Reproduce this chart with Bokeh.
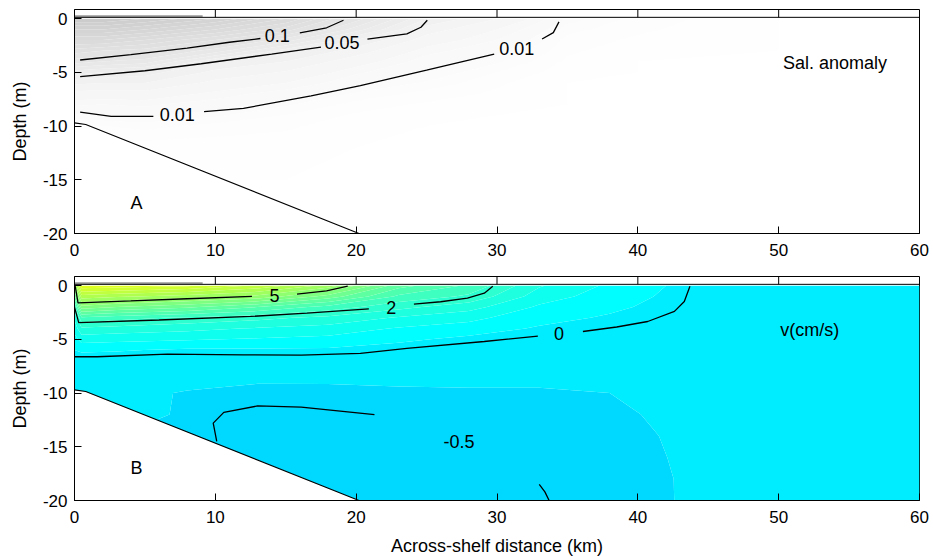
import numpy as np
from bokeh.plotting import figure
from bokeh.layouts import column
from bokeh.models import Span, Range1d
from bokeh.embed import file_html
from bokeh.resources import INLINE
from bokeh.core.properties import value

FONT = "Liberation Sans"

# ---------------- axes / ticks ----------------
x_ticks = [0, 10, 20, 30, 40, 50, 60]
y_ticks = [-20, -15, -10, -5, 0]
strip_ticks = [10, 20, 30, 40, 50]

# ---------------- bathymetry ----------------
bathy_x = [0.0, 0.8, 20.2]
bathy_d = [-9.7, -9.85, -20.0]

# ---------------- salinity anomaly field (panel A) ----------------
sal_x = [0, 2, 5, 10, 15, 20, 25, 30, 35, 40, 50, 60]
sal_depth = [0, -1, -2, -3, -4, -5, -6, -7, -8, -9, -10, -12, -15, -20]
sal_cols = [
    [0.20, 0.17, 0.14, 0.115, 0.095, 0.065, 0.042, 0.026, 0.016, 0.009, 0.005, 0.001, 0, 0],
    [0.20, 0.17, 0.14, 0.110, 0.090, 0.060, 0.040, 0.025, 0.015, 0.010, 0.005, 0.001, 0, 0],
    [0.19, 0.16, 0.13, 0.105, 0.085, 0.055, 0.040, 0.026, 0.016, 0.011, 0.006, 0.001, 0, 0],
    [0.17, 0.14, 0.11, 0.085, 0.050, 0.037, 0.027, 0.018, 0.012, 0.008, 0.004, 0.001, 0, 0],
    [0.14, 0.115, 0.085, 0.055, 0.040, 0.029, 0.020, 0.012, 0.008, 0.005, 0.003, 0.001, 0, 0],
    [0.095, 0.075, 0.050, 0.035, 0.024, 0.016, 0.011, 0.007, 0.004, 0.002, 0.001, 0, 0, 0],
    [0.050, 0.035, 0.025, 0.017, 0.012, 0.010, 0.007, 0.004, 0.002, 0.001, 0, 0, 0, 0],
    [0.030, 0.020, 0.015, 0.011, 0.008, 0.005, 0.003, 0.002, 0.001, 0, 0, 0, 0, 0],
    [0.009, 0.006, 0.004, 0.003, 0.002, 0.001, 0, 0, 0, 0, 0, 0, 0, 0],
    [0.004, 0.003, 0.002, 0.001, 0, 0, 0, 0, 0, 0, 0, 0, 0, 0],
    [0, 0, 0, 0, 0, 0, 0, 0, 0, 0, 0, 0, 0, 0],
    [0, 0, 0, 0, 0, 0, 0, 0, 0, 0, 0, 0, 0, 0],
]

# salinity contour lines (pieces split at labels)
s010_a_x = [0.4, 4.0, 8.0, 11.0, 13.2]
s010_a_d = [-3.85, -3.35, -2.75, -2.2, -1.85]
s010_b_x = [16.0, 17.9, 19.1]
s010_b_d = [-1.33, -0.85, -0.15]
s005_a_x = [0.4, 5.0, 9.0, 14.0, 17.5]
s005_a_d = [-5.4, -4.85, -4.2, -3.3, -2.65]
s005_b_x = [20.8, 23.6, 24.6, 25.05]
s005_b_d = [-1.9, -1.42, -0.8, -0.15]
s001_a_x = [0.4, 2.6, 5.6]
s001_a_d = [-8.7, -9.1, -9.1]
s001_b_x = [9.2, 12.0, 16.8, 20.3, 25.0, 29.8]
s001_b_d = [-8.65, -8.35, -7.2, -6.23, -4.8, -3.3]
s001_c_x = [33.2, 34.0, 34.4]
s001_c_d = [-1.9, -1.3, -0.3]

sal_label_x = [14.4, 19.0, 31.4, 7.3]
sal_label_d = [-1.58, -2.2, -2.8, -8.9]
sal_label_t = ["0.1", "0.05", "0.01", "0.01"]

# ---------------- velocity field (panel B) ----------------
v_x = [0, 0.5, 3, 8, 13, 18, 23, 28, 33, 38, 43, 48, 55, 60]
v_depth = [0, -1, -2, -3, -4, -5, -6, -7, -8, -9, -10, -12, -14, -16, -18, -20]
v_cols = [
    [5.0, 3.5, 2.0, 1.3, 0.9, 0.5, 0.2, -0.05, -0.15, -0.2, -0.25, -0.28, -0.3, -0.3, -0.3, -0.3],
    [7.6, 6.0, 4.5, 2.6, 1.6, 0.9, 0.3, -0.15, -0.21, -0.24, -0.26, -0.27, -0.3, -0.3, -0.3, -0.3],
    [7.5, 5.8, 4.2, 2.4, 1.5, 0.85, 0.25, -0.15, -0.21, -0.24, -0.26, -0.27, -0.3, -0.3, -0.3, -0.3],
    [7.3, 5.45, 3.8, 2.1, 1.35, 0.75, 0.12, -0.12, -0.2, -0.27, -0.31, -0.31, -0.42, -0.45, -0.45, -0.45],
    [6.6, 5.05, 3.2, 1.85, 1.15, 0.65, 0.12, -0.12, -0.2, -0.29, -0.36, -0.56, -0.62, -0.62, -0.6, -0.58],
    [5.5, 4.0, 2.5, 1.55, 1.0, 0.55, 0.12, -0.12, -0.2, -0.29, -0.35, -0.53, -0.62, -0.64, -0.62, -0.6],
    [3.4, 2.6, 1.85, 1.15, 0.65, 0.3, -0.02, -0.15, -0.22, -0.28, -0.33, -0.46, -0.56, -0.6, -0.6, -0.58],
    [2.6, 2.1, 1.4, 0.85, 0.45, 0.08, -0.1, -0.18, -0.23, -0.28, -0.32, -0.39, -0.45, -0.5, -0.53, -0.54],
    [1.25, 0.95, 0.62, 0.36, 0.14, -0.06, -0.14, -0.2, -0.24, -0.28, -0.32, -0.38, -0.42, -0.46, -0.5, -0.52],
    [0.6, 0.45, 0.3, 0.14, -0.01, -0.1, -0.15, -0.19, -0.23, -0.26, -0.3, -0.34, -0.37, -0.39, -0.4, -0.41],
    [0.1, 0.05, 0.0, -0.04, -0.08, -0.11, -0.14, -0.16, -0.18, -0.2, -0.22, -0.25, -0.27, -0.28, -0.29, -0.29],
    [-0.02, -0.03, -0.05, -0.07, -0.09, -0.11, -0.13, -0.14, -0.15, -0.16, -0.17, -0.19, -0.2, -0.21, -0.22, -0.22],
    [-0.02, -0.03, -0.04, -0.06, -0.08, -0.1, -0.11, -0.12, -0.13, -0.14, -0.15, -0.16, -0.17, -0.18, -0.18, -0.18],
    [-0.02, -0.03, -0.04, -0.05, -0.07, -0.09, -0.1, -0.11, -0.12, -0.13, -0.14, -0.15, -0.16, -0.17, -0.17, -0.17],
]

# velocity contour lines (pieces split at labels)
v5_a_x = [0.05, 0.25, 4.0, 8.0, 12.6]
v5_a_d = [-0.05, -1.6, -1.42, -1.22, -1.0]
v5_b_x = [15.8, 17.9, 19.4]
v5_b_d = [-0.79, -0.48, -0.05]
v2_a_x = [0.0, 0.3, 6.0, 12.5, 16.5, 20.9]
v2_a_d = [-2.0, -3.45, -3.2, -2.87, -2.55, -2.16]
v2_b_x = [24.1, 26.0, 27.9, 29.1, 29.7]
v2_b_d = [-1.72, -1.5, -1.16, -0.7, -0.05]
v0_a_x = [0.0, 1.6, 6.6, 12.0, 16.1, 20.3, 23.6, 29.1, 32.9]
v0_a_d = [-6.62, -6.62, -6.37, -6.45, -6.47, -6.3, -5.84, -5.2, -4.7]
v0_b_x = [36.1, 38.5, 40.7, 42.6, 43.3, 43.7]
v0_b_d = [-4.27, -3.85, -3.34, -2.4, -1.47, -0.05]
vm05_a_x = [10.1, 9.85, 10.6, 13.0, 16.1, 21.3]
vm05_a_d = [-14.5, -12.8, -11.8, -11.2, -11.3, -12.0]
vm05_b_x = [33.0, 33.4, 33.7]
vm05_b_d = [-18.5, -19.2, -20.0]

v_label_x = [14.2, 22.5, 34.4, 27.3]
v_label_d = [-0.93, -2.06, -4.5, -14.5]
v_label_t = ["5", "2", "0", "-0.5"]

# ---------------- colour scales ----------------
s_levels = [1e-6, 0.0025, 0.005, 0.0075, 0.01, 0.015, 0.02, 0.03, 0.04, 0.05, 0.06, 0.07,
            0.08, 0.09, 0.10, 0.11, 0.12, 0.13, 0.14, 0.15, 0.16, 0.17, 0.18, 0.19, 0.20, 0.22]
gray_anchor_s = [0.0, 0.01, 0.05, 0.10, 0.20]
gray_anchor_g = [255, 250, 240, 228, 203]


def gray_hex(s):
    g = int(round(np.interp(s, gray_anchor_s, gray_anchor_g)))
    return "#%02x%02x%02x" % (g, g, g)


s_colors = [gray_hex(0.5 * (a + b)) for a, b in zip(s_levels[:-1], s_levels[1:])]

v_levels = [-1.0] + [round(-0.3 + 0.5 * k, 2) for k in range(20)]
JET_T0, JET_DT = 0.359, 0.0316


def jet_hex(v):
    t = JET_T0 + JET_DT * v
    r = min(max(1.5 - abs(4 * t - 3), 0), 1)
    g = min(max(1.5 - abs(4 * t - 2), 0), 1)
    b = min(max(1.5 - abs(4 * t - 1), 0), 1)
    return "#%02x%02x%02x" % (int(r * 255), int(g * 255), int(b * 255))


v_colors = [jet_hex(0.5 * (a + b)) for a, b in zip(v_levels[:-1], v_levels[1:])]

Y_TOP = 0.85
SURF = 0.12
TICK_FS = "17px"
TEXT_FS = "18px"


def make_panel(border_top, border_bottom, xlabel):
    p = figure(frame_width=845, frame_height=224,
               x_range=Range1d(0, 60), y_range=Range1d(-20, Y_TOP),
               output_backend="svg", toolbar_location=None,
               min_border_left=74, min_border_right=12,
               min_border_top=border_top, min_border_bottom=border_bottom)
    p.grid.visible = False
    p.outline_line_color = "black"
    p.outline_line_width = 1
    p.background_fill_color = "white"
    for ax in p.axis:
        ax.major_tick_in = 7
        ax.major_tick_out = 0
        ax.minor_tick_line_color = None
        ax.axis_line_color = "black"
        ax.major_tick_line_color = "black"
        ax.major_label_text_font = FONT
        ax.major_label_text_font_size = TICK_FS
        ax.major_label_text_color = "black"
        ax.axis_label_text_font = FONT
        ax.axis_label_text_font_size = TEXT_FS
        ax.axis_label_text_font_style = "normal"
        ax.axis_label_text_color = "black"
    p.xaxis.ticker = x_ticks
    p.yaxis.ticker = y_ticks
    p.yaxis.major_label_overrides = {float(t): str(t) for t in y_ticks}
    p.xaxis.major_label_overrides = {float(t): str(t) for t in x_ticks}
    p.yaxis.axis_label = "Depth (m)"
    p.yaxis.major_label_standoff = 7
    p.yaxis.axis_label_standoff = 10
    p.xaxis.major_label_standoff = 10
    p.xaxis.axis_label_standoff = 10
    if xlabel:
        p.xaxis.axis_label = xlabel
    return p


def add_common(p):
    # mask below the sea floor
    mx = [-1.0] + bathy_x + [bathy_x[-1], -1.0]
    my = [bathy_d[0]] + bathy_d + [-21.0, -21.0]
    p.patch(mx, my, fill_color="white", line_color=None)
    p.line(bathy_x, bathy_d, line_color="black", line_width=1.1)
    # surface strip
    p.add_layout(Span(location=SURF, dimension="width", line_color="black", line_width=1))
    p.line([0, 9.1], [SURF + 0.12, SURF + 0.12], line_color="#555555", line_width=1)
    p.segment(x0=strip_ticks, y0=[SURF] * len(strip_ticks), x1=strip_ticks,
              y1=[Y_TOP] * len(strip_ticks), line_color="black", line_width=1)


# ---------------- panel A ----------------
pA = make_panel(9, 32, None)
pA.contour(x=sal_x, y=np.array(sal_depth)[::-1], z=np.array(sal_cols).T[::-1],
           levels=s_levels, fill_color=s_colors, line_color=None)
add_common(pA)
for xs, ds in [(s010_a_x, s010_a_d), (s010_b_x, s010_b_d), (s005_a_x, s005_a_d),
               (s005_b_x, s005_b_d), (s001_a_x, s001_a_d), (s001_b_x, s001_b_d),
               (s001_c_x, s001_c_d)]:
    pA.line(xs, ds, line_color="black", line_width=1.3)
pA.text(x=sal_label_x, y=sal_label_d, text=sal_label_t, text_align="center",
        text_baseline="middle", text_font=value(FONT), text_font_size=TEXT_FS, text_color="black")
pA.text(x=[54.0, 4.4], y=[-4.1, -17.2], text=["Sal. anomaly", "A"], text_align="center",
        text_baseline="middle", text_font=value(FONT), text_font_size=TEXT_FS, text_color="black")

# ---------------- panel B ----------------
pB = make_panel(11, 57, "Across-shelf distance (km)")
pB.contour(x=v_x, y=np.array(v_depth)[::-1], z=np.array(v_cols).T[::-1],
           levels=v_levels, fill_color=v_colors, line_color=None)
add_common(pB)
for xs, ds in [(v5_a_x, v5_a_d), (v5_b_x, v5_b_d), (v2_a_x, v2_a_d), (v2_b_x, v2_b_d),
               (v0_a_x, v0_a_d), (v0_b_x, v0_b_d), (vm05_a_x, vm05_a_d), (vm05_b_x, vm05_b_d)]:
    pB.line(xs, ds, line_color="black", line_width=1.3)
pB.text(x=v_label_x, y=v_label_d, text=v_label_t, text_align="center",
        text_baseline="middle", text_font=value(FONT), text_font_size=TEXT_FS, text_color="black")
pB.text(x=[52.2, 4.4], y=[-4.1, -17.0], text=["v(cm/s)", "B"], text_align="center",
        text_baseline="middle", text_font=value(FONT), text_font_size=TEXT_FS, text_color="black")

layout = column(pA, pB, spacing=0)
open("out.html", "w").write(file_html(layout, INLINE))
